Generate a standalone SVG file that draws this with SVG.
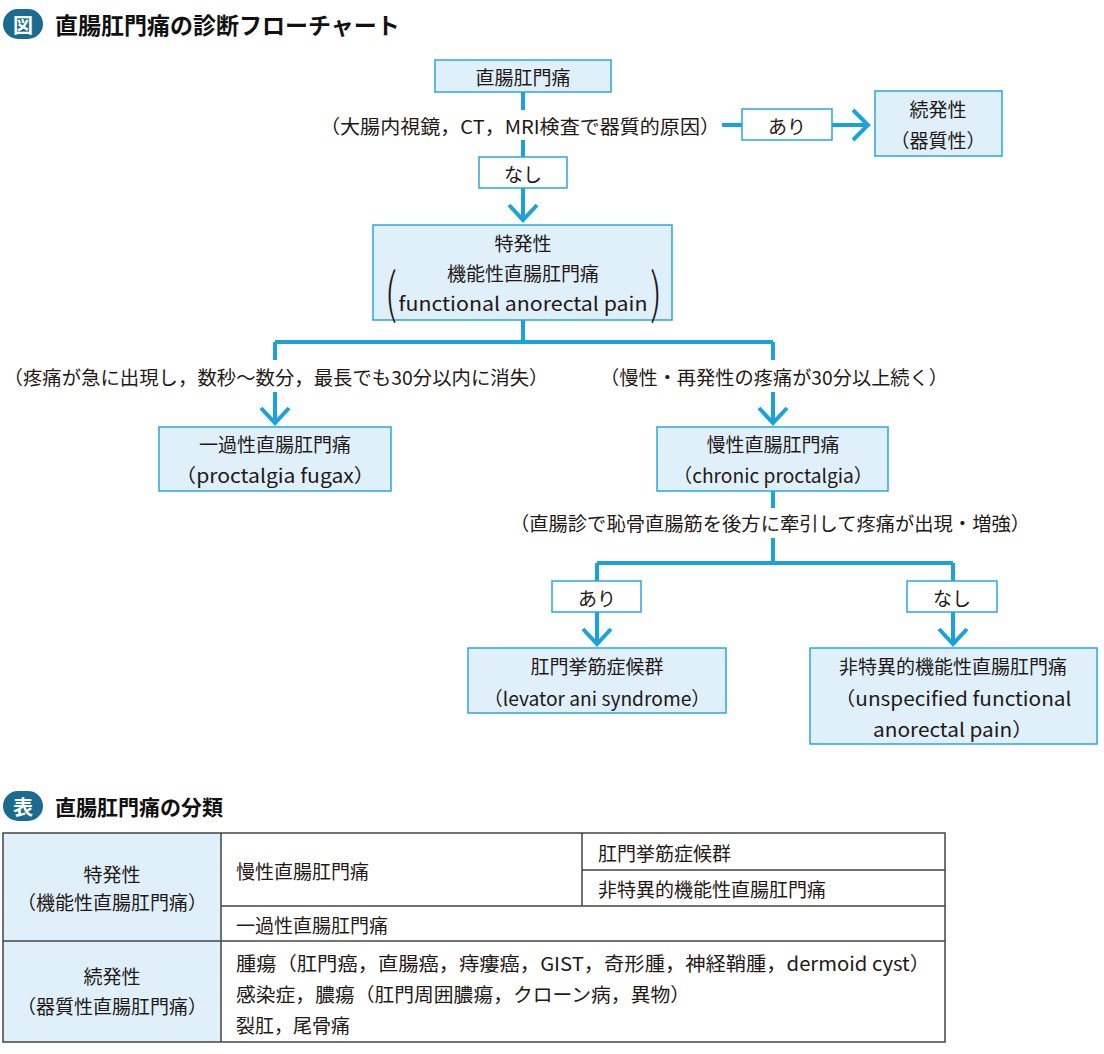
<svg xmlns="http://www.w3.org/2000/svg" width="1104" height="1054" viewBox="0 0 1104 1054">
<style>
.t{font-family:"Noto Sans CJK JP","Noto Sans",sans-serif;font-size:19px;fill:#231815}
.c{text-anchor:middle;dominant-baseline:central}
.l{dominant-baseline:central}
.h{font-weight:bold;font-size:23px;fill:#111}
.ic{fill:#1b6b90}
.ict{font-family:"Noto Sans CJK JP",sans-serif;font-weight:bold;font-size:20px;fill:#fff;text-anchor:middle;dominant-baseline:central}
.box{fill:#dff0fa;stroke:#2aa6df;stroke-width:1.5}
.lbl{fill:#fff;stroke:#2aa6df;stroke-width:1.5}
.ln{fill:none;stroke:#1ba1dc;stroke-width:4}
.tb{fill:none;stroke:#444;stroke-width:1.5}
.par{font-family:"Noto Sans CJK JP",sans-serif;font-size:54px;font-weight:300;fill:#231815;text-anchor:middle;dominant-baseline:central}
</style>
<rect width="1104" height="1054" fill="#fff"/>

<g id="title">
<rect class="ic" x="3" y="9" width="40" height="30" rx="15"/>
<text class="ict" x="23" y="24">図</text>
<text class="t l h" x="55" y="24">直腸肛門痛の診断フローチャート</text>
</g>

<g id="connectors">
<path class="ln" d="M523 92V110M523 140V157M523 188V220"/>
<path class="ln" d="M509 205L523 220L537 205"/>
<path class="ln" d="M722 125H742M832 125H868"/>
<path class="ln" d="M853 110L868 125L853 140"/>
<path class="ln" d="M523 320V342M275 342H773M275 342V360M773 342V360"/>
<path class="ln" d="M275 392V423M261 408L275 423L289 408M773 392V423M759 408L773 423L787 408"/>
<path class="ln" d="M773 491V508M773 538V563M597 563H953M597 563V581M953 563V581"/>
<path class="ln" d="M597 612V644M583 629L597 644L611 629M953 612V644M939 629L953 644L967 629"/>
</g>

<g id="n1">
<rect class="box" x="435" y="60" width="176" height="32"/>
<text class="t c" x="523" y="76">直腸肛門痛</text>
</g>
<g id="q1">
<text class="t c" x="520" y="125" textLength="400" lengthAdjust="spacingAndGlyphs">（大腸内視鏡，CT，MRI検査で器質的原因）</text>
</g>
<g id="y1">
<rect class="lbl" x="742" y="109" width="90" height="31"/>
<text class="t c" x="787" y="125">あり</text>
</g>
<g id="secondary">
<rect class="box" x="875" y="91" width="127" height="65"/>
<text class="t c" x="938" y="108">続発性</text>
<text class="t c" x="938" y="139">（器質性）</text>
</g>
<g id="no1">
<rect class="lbl" x="479" y="157" width="88" height="31"/>
<text class="t c" x="523" y="173">なし</text>
</g>
<g id="idiopathic">
<rect class="box" x="373" y="225" width="299" height="95"/>
<text class="t c" x="523" y="242">特発性</text>
<text class="t c" x="523" y="272">機能性直腸肛門痛</text>
<text class="t c" x="523" y="302" textLength="249" lengthAdjust="spacingAndGlyphs">functional anorectal pain</text>
<text class="par" x="0" y="0" transform="translate(391 289) scale(0.7 1)">(</text>
<text class="par" x="0" y="0" transform="translate(656 289) scale(0.7 1)">)</text>
</g>
<g id="q2">
<text class="t c" x="276" y="376" textLength="545" lengthAdjust="spacingAndGlyphs">（疼痛が急に出現し，数秒～数分，最長でも30分以内に消失）</text>
</g>
<g id="q3">
<text class="t c" x="774" y="376" textLength="348" lengthAdjust="spacingAndGlyphs">（慢性・再発性の疼痛が30分以上続く）</text>
</g>
<g id="fugax">
<rect class="box" x="159" y="427" width="232" height="64"/>
<text class="t c" x="275" y="443">一過性直腸肛門痛</text>
<text class="t c" x="275" y="474" textLength="200" lengthAdjust="spacingAndGlyphs">（proctalgia fugax）</text>
</g>
<g id="chronic">
<rect class="box" x="657" y="427" width="231" height="64"/>
<text class="t c" x="773" y="443">慢性直腸肛門痛</text>
<text class="t c" x="773" y="474" textLength="200" lengthAdjust="spacingAndGlyphs">（chronic proctalgia）</text>
</g>
<g id="q4">
<text class="t c" x="770" y="522" textLength="520" lengthAdjust="spacingAndGlyphs">（直腸診で恥骨直腸筋を後方に牽引して疼痛が出現・増強）</text>
</g>
<g id="y2">
<rect class="lbl" x="552" y="581" width="89" height="31"/>
<text class="t c" x="597" y="597">あり</text>
</g>
<g id="no2">
<rect class="lbl" x="907" y="581" width="90" height="31"/>
<text class="t c" x="952" y="597">なし</text>
</g>
<g id="levator">
<rect class="box" x="468" y="648" width="258" height="65"/>
<text class="t c" x="597" y="665">肛門挙筋症候群</text>
<text class="t c" x="597" y="697" textLength="227" lengthAdjust="spacingAndGlyphs">（levator ani syndrome）</text>
</g>
<g id="unspecified">
<rect class="box" x="810" y="648" width="287" height="96"/>
<text class="t c" x="953" y="665">非特異的機能性直腸肛門痛</text>
<text class="t c" x="953" y="697" textLength="237" lengthAdjust="spacingAndGlyphs">（unspecified functional</text>
<text class="t c" x="953" y="728" textLength="160" lengthAdjust="spacingAndGlyphs">anorectal pain）</text>
</g>

<g id="table">
<rect class="ic" x="3" y="791" width="40" height="30" rx="15"/>
<text class="ict" x="23" y="806">表</text>
<text class="t l h" x="55" y="806" style="font-size:21px">直腸肛門痛の分類</text>
<rect x="3" y="833" width="218" height="209" fill="#dff0fa"/>
<rect class="tb" x="3" y="833" width="942" height="209"/>
<path class="tb" d="M221 833V1042M3 941H945M221 906H945M582 833V906M582 870H945"/>
<text class="t c" x="112" y="873">特発性</text>
<text class="t c" x="112" y="901">（機能性直腸肛門痛）</text>
<text class="t c" x="112" y="975">続発性</text>
<text class="t c" x="112" y="1005">（器質性直腸肛門痛）</text>
<text class="t l" x="236" y="870">慢性直腸肛門痛</text>
<text class="t l" x="598" y="852">肛門挙筋症候群</text>
<text class="t l" x="598" y="888">非特異的機能性直腸肛門痛</text>
<text class="t l" x="236" y="924">一過性直腸肛門痛</text>
<text class="t l" x="236" y="962" textLength="694" lengthAdjust="spacingAndGlyphs">腫瘍（肛門癌，直腸癌，痔瘻癌，GIST，奇形腫，神経鞘腫，dermoid cyst）</text>
<text class="t l" x="236" y="993" textLength="454" lengthAdjust="spacingAndGlyphs">感染症，膿瘍（肛門周囲膿瘍，クローン病，異物）</text>
<text class="t l" x="236" y="1024">裂肛，尾骨痛</text>
</g>
</svg>
